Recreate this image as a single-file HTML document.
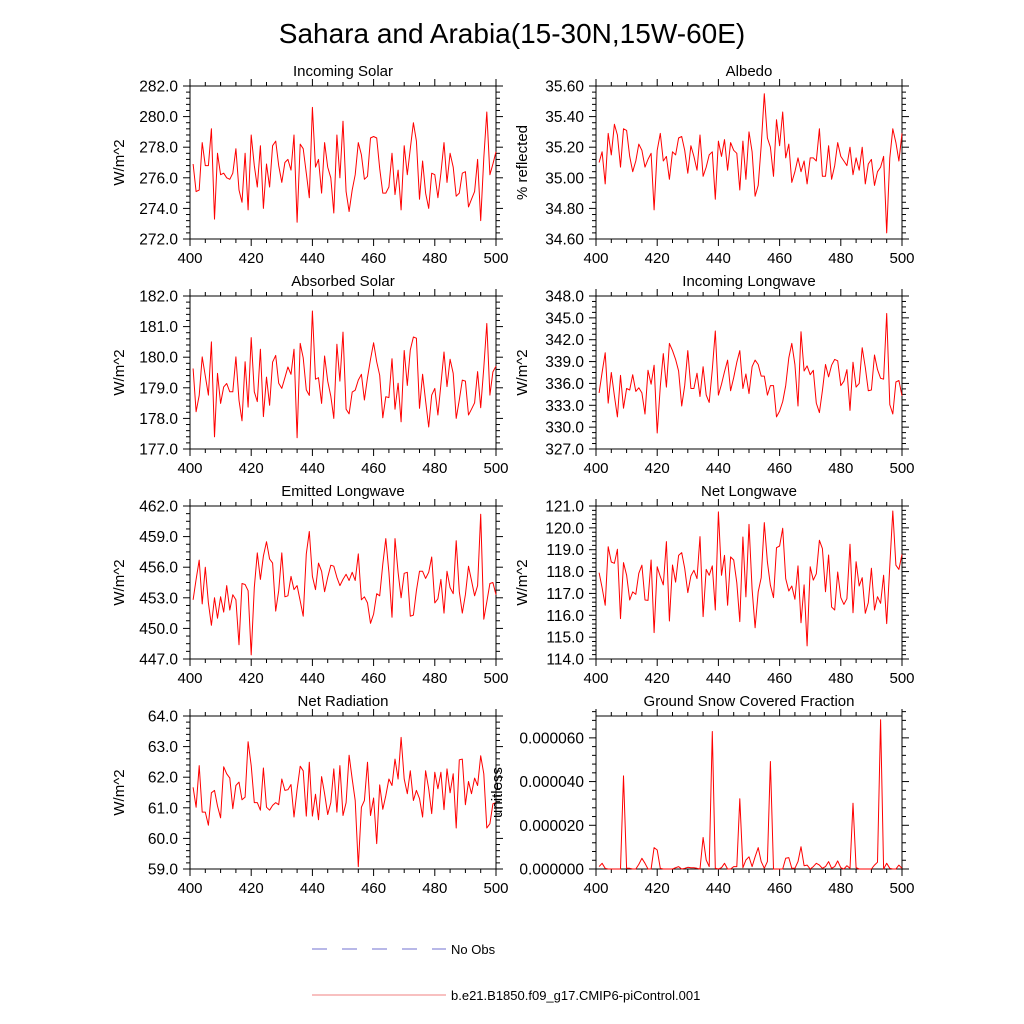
<!DOCTYPE html>
<html><head><meta charset="utf-8"><title>Sahara and Arabia</title>
<style>
html,body{margin:0;padding:0;background:#fff;}
svg{display:block;font-family:"Liberation Sans",sans-serif;}
</style></head>
<body>
<svg id="chart" width="1024" height="1024" viewBox="0 0 1024 1024" xmlns="http://www.w3.org/2000/svg">
<rect x="0" y="0" width="1024" height="1024" fill="#fff"/>
<text x="512" y="43" text-anchor="middle" font-size="28">Sahara and Arabia(15-30N,15W-60E)</text>
<g>
<line x1="312" y1="949" x2="446" y2="949" stroke="#7070d0" stroke-width="1" stroke-dasharray="15,15"/>
<text x="451" y="954" font-size="13">No Obs</text>
<line x1="312" y1="995" x2="446" y2="995" stroke="#f08080" stroke-width="1"/>
<text x="451" y="1000" font-size="13">b.e21.B1850.f09_g17.CMIP6-piControl.001</text>
</g>
<g id="panels"></g>
</svg>
<script>
const years = Array.from({length:100},(_, i)=>401+i);
const xTicks = [400,420,440,460,480,500];

const incomingSolar = [276.9,275.1,275.2,278.3,276.8,276.8,279.2,273.3,277.6,276.2,276.3,276.0,275.9,276.3,277.9,275.2,274.4,277.6,273.9,278.8,276.8,275.4,278.1,274.0,276.9,275.4,278.1,278.4,276.8,275.7,277.0,277.2,276.5,278.8,273.1,278.2,277.9,276.3,274.7,280.6,276.7,277.2,275.0,278.3,276.7,276.0,273.7,278.8,276.0,279.7,275.1,273.8,275.2,276.2,278.3,277.5,275.9,276.1,278.6,278.7,278.6,276.6,275.0,275.0,275.4,277.6,274.9,276.5,273.9,278.1,276.2,277.9,279.6,278.4,274.6,277.1,275.0,274.0,276.3,276.2,274.7,276.3,278.3,275.7,277.6,276.7,274.8,275.0,276.3,276.4,274.1,274.6,275.1,277.2,273.2,277.3,280.3,276.2,276.9,277.7];
const albedo = [35.10,35.17,34.96,35.29,35.15,35.35,35.28,35.07,35.32,35.31,35.14,35.04,35.11,35.22,35.18,35.07,35.12,35.16,34.79,35.18,35.29,35.11,35.14,34.99,35.17,35.15,35.26,35.27,35.18,35.03,35.21,35.14,35.05,35.28,35.01,35.07,35.15,35.17,34.86,35.24,35.14,35.25,35.05,35.23,35.18,35.16,34.92,35.24,34.99,35.30,35.17,34.88,34.95,35.21,35.55,35.26,35.20,35.01,35.38,35.21,35.43,35.13,35.22,34.97,35.04,35.13,35.04,35.11,34.96,35.13,35.13,35.11,35.32,35.01,35.01,35.21,34.99,35.08,35.23,35.14,35.11,35.08,35.20,35.02,35.13,35.05,35.20,34.96,35.09,35.12,34.95,35.04,35.07,35.14,34.64,35.13,35.32,35.23,35.11,35.29];
const absorbedSolar = [179.63,178.22,178.75,180.01,179.39,178.76,180.50,177.40,179.47,178.49,179.03,179.14,178.87,178.87,180.01,178.59,177.92,179.85,178.37,180.64,178.87,178.55,180.26,178.06,179.35,178.43,179.84,180.06,179.15,178.98,179.33,179.68,179.44,180.26,177.37,180.45,179.98,178.93,178.75,181.51,179.28,179.33,178.49,180.04,179.22,178.73,178.00,180.42,179.22,180.82,178.30,178.15,178.86,178.92,179.25,179.44,178.60,179.33,179.93,180.47,179.85,179.41,178.02,178.71,178.68,179.95,178.30,179.15,177.89,180.22,179.08,180.24,180.66,180.62,178.33,179.44,178.57,177.72,178.76,178.98,178.11,179.11,180.17,179.04,179.93,179.47,178.00,178.60,179.25,179.22,178.11,178.30,178.51,179.53,178.35,179.66,181.10,178.76,179.52,179.71];
const incomingLongwave = [334.7,337.5,340.2,333.3,337.5,334.3,331.4,337.1,332.6,335.3,335.1,337.2,334.9,335.4,334.7,331.8,337.8,335.9,338.5,329.2,335.6,340.1,335.5,341.5,340.5,339.3,337.7,332.9,335.7,340.5,335.3,335.3,337.4,334.2,338.3,334.4,333.4,337.9,343.2,334.4,335.9,337.6,339.2,335.0,336.8,338.9,340.5,335.3,337.3,334.6,338.3,339.2,338.6,337.0,337.0,334.4,335.7,335.7,331.4,332.2,333.5,335.7,339.5,341.5,338.6,332.9,343.1,337.7,338.4,337.2,337.8,333.3,332.0,335.0,338.6,336.9,338.5,339.3,339.1,335.7,336.3,337.9,332.3,338.9,335.5,336.0,340.9,338.2,335.0,335.1,339.9,337.9,336.7,336.6,345.6,333.1,331.8,336.2,336.4,334.3];
const emittedLongwave = [452.8,454.8,456.7,452.4,456.0,452.5,450.3,453.0,451.0,453.1,451.6,454.2,451.8,453.3,452.8,448.4,454.4,454.3,453.7,447.4,454.0,457.4,454.8,457.1,458.5,456.8,456.4,451.7,453.7,457.4,453.1,453.2,455.1,453.8,454.2,452.7,451.2,457.3,459.5,455.1,453.8,456.4,455.6,453.6,455.0,456.2,456.1,455.0,454.2,454.8,455.3,454.7,455.5,454.7,457.3,452.8,453.1,452.5,450.5,451.4,453.4,453.2,456.3,458.8,455.5,451.1,458.8,455.5,453.0,455.4,455.5,451.2,451.3,453.7,455.6,455.6,454.9,455.5,457.0,452.5,452.9,454.8,451.5,455.6,454.0,453.4,458.6,453.6,451.5,453.3,456.1,454.7,453.2,454.2,461.2,450.9,452.6,454.4,454.5,453.3];
const netLongwave = [117.95,117.26,116.46,119.14,118.44,118.38,119.02,115.85,118.41,117.84,116.70,117.07,116.96,117.92,118.29,116.70,116.68,118.53,115.21,118.22,117.77,117.39,119.37,115.74,118.30,117.52,118.74,118.87,118.15,117.04,117.80,118.06,117.68,119.60,115.94,118.10,117.83,118.26,116.24,120.73,117.83,118.74,116.46,118.67,118.53,117.49,115.71,119.58,116.84,120.16,117.19,115.43,117.07,117.72,120.24,118.44,117.37,116.81,119.09,119.17,119.98,117.68,117.11,117.34,116.73,118.26,115.66,117.39,114.60,118.22,117.61,117.90,119.43,119.05,117.08,118.76,116.38,116.24,117.98,116.81,116.50,116.76,119.25,116.12,118.45,117.34,117.72,116.09,116.58,118.15,116.24,116.85,116.55,117.83,115.62,118.26,120.77,118.29,118.10,118.79];
const netRadiation = [61.67,61.02,62.38,60.86,60.86,60.43,61.49,61.57,61.06,60.67,62.34,62.11,61.97,60.97,61.73,61.84,61.26,61.35,63.16,62.38,61.17,61.17,60.92,62.30,61.02,60.92,61.08,61.17,61.10,61.94,61.57,61.59,61.76,60.70,61.60,62.36,62.21,60.73,62.49,60.73,61.44,60.61,62.02,61.46,60.78,61.17,62.27,60.86,62.38,60.75,61.17,62.72,61.94,61.24,59.08,61.02,61.24,62.49,60.75,61.32,59.83,61.75,60.95,61.40,61.94,61.73,62.59,61.94,63.30,61.94,61.46,62.21,61.24,61.57,61.30,60.70,62.21,61.62,60.81,62.16,61.62,62.16,60.94,62.27,61.49,62.11,60.34,62.57,62.59,61.10,61.86,61.46,61.97,61.73,62.70,62.11,60.34,60.48,61.13,61.17];
// snow fraction, in units of 1e-6
const snowFraction = [1.1,2.6,0.3,0,0,0,0,0,42.6,0.3,0.3,0,0,2.1,4.9,2.6,0,0,9.8,8.7,0.3,0,0,0,0,0.6,1.1,0,0.3,0.8,0.6,0.6,0.3,0,14.4,4.1,1.1,62.9,0.3,0,0.6,2.6,0,0,1.1,1.1,32.1,0.6,4.1,5.6,1.1,5.6,9.8,3.4,0.3,3.4,49.2,0,0,0,0,4.9,5.2,0.3,0.3,3.4,10.2,1.5,1.8,0,1.1,2.6,1.8,0.3,1.1,3.4,0.3,1.1,3.7,0.6,0,1.5,0.3,30.1,0.6,0,0,0,0,0,1.8,3.1,68.3,0,2.6,0.3,0,0,1.8,0.3];

const panelTitles = ["Incoming Solar","Albedo","Absorbed Solar","Incoming Longwave","Emitted Longwave","Net Longwave","Net Radiation","Ground Snow Covered Fraction"];
const yTitles = ["W/m^2","% reflected","W/m^2","W/m^2","W/m^2","W/m^2","W/m^2","unitless"];
const yMins = [272,34.6,177,327,447,114,59,0];
const yMaxs = [282,35.6,182,348,462,121,64,70];
const yMajor = [2,0.2,1,3,3,1,1,20];
const yMinorN = [4,4,4,3,3,4,4,4];
const yDecimals = [1,2,1,1,1,1,1,6];
const yScale = [1,1,1,1,1,1,1,1e-6];
const seriesList = [incomingSolar,albedo,absorbedSolar,incomingLongwave,emittedLongwave,netLongwave,netRadiation,snowFraction];
const slugs = ["incoming-solar","albedo","absorbed-solar","incoming-longwave","emitted-longwave","net-longwave","net-radiation","snow-fraction"];

const NS = "http://www.w3.org/2000/svg";
const root = document.getElementById('panels');
function mk(tag, attrs, parent){
  const e = document.createElementNS(NS, tag);
  for (const k in attrs) e.setAttribute(k, attrs[k]);
  parent.appendChild(e);
  return e;
}
const W = 306, H = 153;
for (let p=0; p<8; p++){
  const col = p%2, row = Math.floor(p/2);
  const L = col ? 596 : 190, T = 86 + row*210;
  const g = mk('g', {}, root);
  
  
  const xs = v => L + (v-400)/100*W;
  const ys = v => T + H - (v-yMins[p])/(yMaxs[p]-yMins[p])*H;
  for (let v=400; v<=500; v+=5){
    const major = xTicks.includes(v);
    const len = major?7:4;
    mk('line',{x1:xs(v),y1:T+H,x2:xs(v),y2:T+H+len,stroke:'#000','stroke-width':1},g);
    mk('line',{x1:xs(v),y1:T,x2:xs(v),y2:T-len,stroke:'#000','stroke-width':1},g);
  }
  xTicks.forEach(v=>{
    const t = mk('text',{x:xs(v),y:T+H+24,'text-anchor':'middle','font-size':15},g);
    
    
    t.textContent = v;
  });
  const step = yMajor[p]/ (yMinorN[p]+1);
  const nSteps = Math.round((yMaxs[p]-yMins[p])/step);
  for (let i=0;i<=nSteps;i++){
    const v = yMins[p] + i*step;
    const major = i % (yMinorN[p]+1) === 0;
    const len = major?7:4;
    mk('line',{x1:L,y1:ys(v),x2:L-len,y2:ys(v),stroke:'#000','stroke-width':1},g);
    mk('line',{x1:L+W,y1:ys(v),x2:L+W+len,y2:ys(v),stroke:'#000','stroke-width':1},g);
    if (major){
      const t = mk('text',{x:L-12,y:ys(v)+5.5,'text-anchor':'end','font-size':15.5},g);
      
      
      t.textContent = (v*yScale[p]).toFixed(yDecimals[p]);
    }
  }
  mk('rect',{x:L,y:T,width:W,height:H,fill:'none',stroke:'#000','stroke-width':1},g);
  const pts = seriesList[p].map((v,i)=>xs(years[i]).toFixed(1)+','+ys(v).toFixed(1)).join(' ');
  const line = mk('polyline',{points:pts,fill:'none',stroke:'#ff0000','stroke-width':1,'stroke-linejoin':'round'},g);
  
  
  const tt = mk('text',{x:L+W/2,y:T-10,'text-anchor':'middle','font-size':15},g);
  
  
  tt.textContent = panelTitles[p];
  const yx = p===7 ? 502 : (col ? 527 : 124);
  const yt = mk('text',{x:yx,y:T+H/2,'text-anchor':'middle','font-size':15,transform:'rotate(-90 '+yx+' '+(T+H/2)+')'},g);
  
  
  yt.textContent = yTitles[p];
}
</script>
</body></html>
